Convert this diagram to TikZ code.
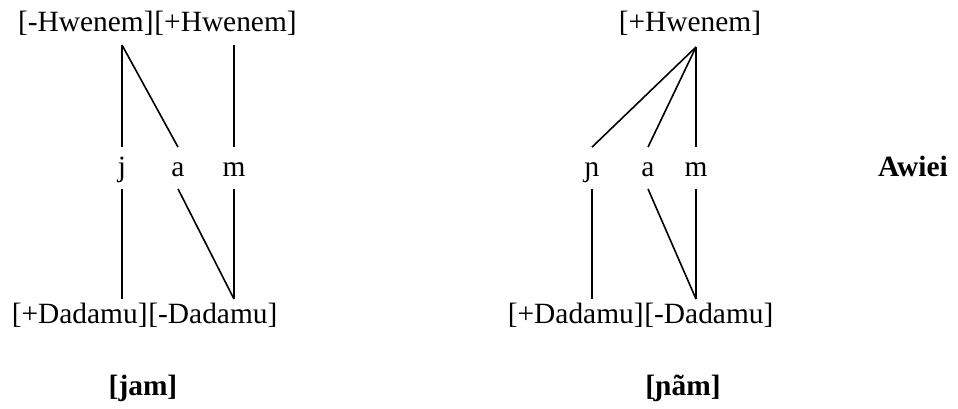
\documentclass[tikz,border=0pt]{standalone}
\usepackage{fontspec}
\setmainfont{Liberation Serif}

\begin{document}
\begin{tikzpicture}[x=0.5pt, y=-0.5pt,
  feat/.style={inner sep=0pt, font=\fontsize{14.7}{17}\selectfont},
  seg/.style={font=\fontsize{14.7}{17}\selectfont, text height=10pt, text depth=2pt, inner xsep=2pt, inner ysep=4.25pt},
  word/.style={anchor=base, inner sep=0pt, font=\fontsize{14.7}{17}\selectfont\bfseries},
  assoc/.style={line width=0.8pt}]
  \useasboundingbox (0,0) rectangle (958,408);

  % features on top
  \node[feat, anchor=base east] (hwl) at (154,31) {[-Hwenem]};
  \node[feat, anchor=base west] (hwr) at (hwl.base east) {[+Hwenem]};
  \node[feat, anchor=base] (hwr2) at (690,31) {[+Hwenem]};

  % segments
  \foreach \n/\x/\t in {j/122/j, a/178/a, m/234/m, nj/592/ɲ, a2/648/a, m2/696/m}
    \node[seg] (\n) at (\x,168) {\t};
  \node[word] (lang) at (913,176) {Awiei};

  % features below
  \node[feat, anchor=base east] (ddl) at (148,323) {[+Dadamu]};
  \node[feat, anchor=base west] (ddr) at (ddl.base east) {[-Dadamu]};
  \node[feat, anchor=base east] (ddl2) at (644,323) {[+Dadamu]};
  \node[feat, anchor=base west] (ddr2) at (ddl2.base east) {[-Dadamu]};

  \node[word] (jam) at (143,395) {[jam]};
  \node[word] (njam) at (683,395) {[ɲãm]};

  \coordinate (hl) at (122,45);
  \coordinate (hr) at (234,45);
  \coordinate (apex) at (696,47);
  \coordinate (dl) at (122,299);
  \coordinate (dr) at (234,299);
  \coordinate (dl2) at (592,299);
  \coordinate (dr2) at (696,299);

  % association lines
  \draw[assoc] (hl) -- (j.north);
  \draw[assoc] (hl) -- (a.north);
  \draw[assoc] (hr) -- (m.north);
  \draw[assoc] (j.south) -- (dl);
  \draw[assoc] (a.south) -- (dr);
  \draw[assoc] (m.south) -- (dr);

  \draw[assoc] (apex) -- (nj.north);
  \draw[assoc] (apex) -- (a2.north);
  \draw[assoc] (apex) -- (m2.north);
  \draw[assoc] (nj.south) -- (dl2);
  \draw[assoc] (a2.south) -- (dr2);
  \draw[assoc] (m2.south) -- (dr2);
\end{tikzpicture}
\end{document}
